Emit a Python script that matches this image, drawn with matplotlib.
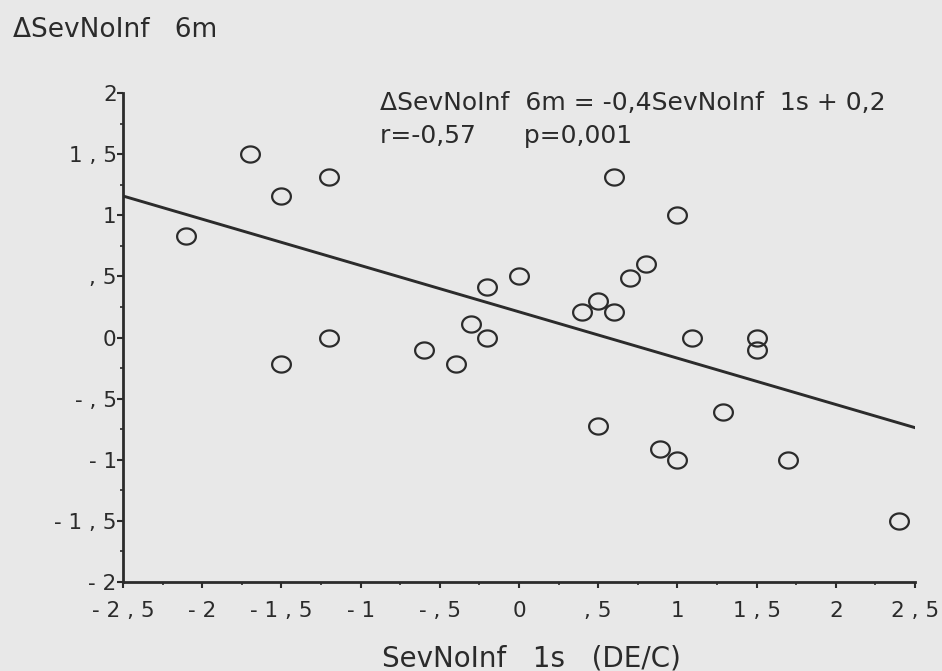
import matplotlib
matplotlib.use("Agg")
import matplotlib.pyplot as plt
import numpy as np
from matplotlib.path import Path
from matplotlib.ticker import FixedLocator, MultipleLocator

# ---- data ----
x_vals = [-2.1, -1.7, -1.5, -1.2, -1.5, -1.2, -0.6, -0.4, -0.3, -0.2, -0.2, 0.0,
          0.4, 0.5, 0.6, 0.7, 0.8, 0.6, 1.0, 1.09, 1.5, 1.5, 1.29, 0.5, 0.89, 1.0,
          1.7, 2.4]
y_vals = [0.83, 1.5, 1.16, 1.31, -0.22, 0.0, -0.1, -0.22, 0.11, 0.41, 0.0, 0.5,
          0.21, 0.3, 0.21, 0.49, 0.6, 1.31, 1.0, 0.0, 0.0, -0.1, -0.61, -0.72, -0.91,
          -1.0, -1.0, -1.5]
fit_slope = -0.379
fit_intercept = 0.21

x_ticks = [-2.5, -2, -1.5, -1, -0.5, 0, 0.5, 1, 1.5, 2, 2.5]
x_tick_labels = ["-2,5", "-2", "-1,5", "-1", "-,5", "0", ",5", "1", "1,5", "2", "2,5"]
y_ticks = [-2, -1.5, -1, -0.5, 0, 0.5, 1, 1.5, 2]
y_tick_labels = ["-2", "-1,5", "-1", "-,5", "0", ",5", "1", "1,5", "2"]

title_text = "ΔSevNoInf   6m"
xlabel_text = "SevNoInf   1s   (DE/C)"
eq_text = "ΔSevNoInf  6m = -0,4SevNoInf  1s + 0,2"
stat_text = "r=-0,57      p=0,001"

# ---- styling ----
BG = "#e8e8e8"
INK = "#2b2b2b"
FONT = ["DejaVu Sans"]
W, H = 942, 671


def spaced(s):
    return " ".join(s)


fig = plt.figure(figsize=(W / 100, H / 100), dpi=100, facecolor=BG)
ax = fig.add_axes([123 / W, 1 - 582 / H, (915 - 123) / W, (582 - 93) / H])
ax.set_facecolor(BG)

# ellipse-shaped open marker
theta = np.linspace(0, 2 * np.pi, 73)
ell = Path(np.column_stack([np.cos(theta), 0.86 * np.sin(theta)]), closed=True)

ax.plot(x_vals, y_vals, linestyle="none", marker=ell, markersize=13.5,
        markerfacecolor="none", markeredgecolor=INK, markeredgewidth=1.6,
        zorder=3)

xl = np.array([x_ticks[0], x_ticks[-1]])
ax.plot(xl, fit_slope * xl + fit_intercept, color=INK, linewidth=2.1, zorder=2)

ax.set_xlim(x_ticks[0], x_ticks[-1])
ax.set_ylim(y_ticks[0], y_ticks[-1])

for s in ("top", "right"):
    ax.spines[s].set_visible(False)
for s in ("left", "bottom"):
    ax.spines[s].set_color(INK)
    ax.spines[s].set_linewidth(2.0)

ax.xaxis.set_major_locator(FixedLocator(x_ticks))
ax.yaxis.set_major_locator(FixedLocator(y_ticks))
ax.xaxis.set_minor_locator(MultipleLocator(0.25))
ax.yaxis.set_minor_locator(MultipleLocator(0.25))
ax.set_xticklabels([spaced(t) for t in x_tick_labels])
ax.set_yticklabels([spaced(t) for t in y_tick_labels])

ax.tick_params(axis="both", which="major", direction="out", length=4.5, width=1.5,
               color=INK, labelcolor=INK, labelsize=15.5)
ax.tick_params(axis="both", which="minor", direction="out", length=2.5, width=1.2,
               color=INK)
ax.tick_params(axis="x", which="major", pad=9.5)
ax.tick_params(axis="y", which="major", pad=0)
for lab in ax.get_xticklabels() + ax.get_yticklabels():
    lab.set_family(FONT)


def ftext(px, py, s, **kw):
    fig.text(px / W, 1 - py / H, s, color=INK, family=FONT, va="baseline", **kw)


ftext(13, 37, title_text, fontsize=19)
ftext(382, 666, xlabel_text, fontsize=20)
ftext(380, 110, eq_text, fontsize=18)
ftext(380, 143, stat_text, fontsize=18)

fig.savefig("out.png", dpi=100, facecolor=BG)
